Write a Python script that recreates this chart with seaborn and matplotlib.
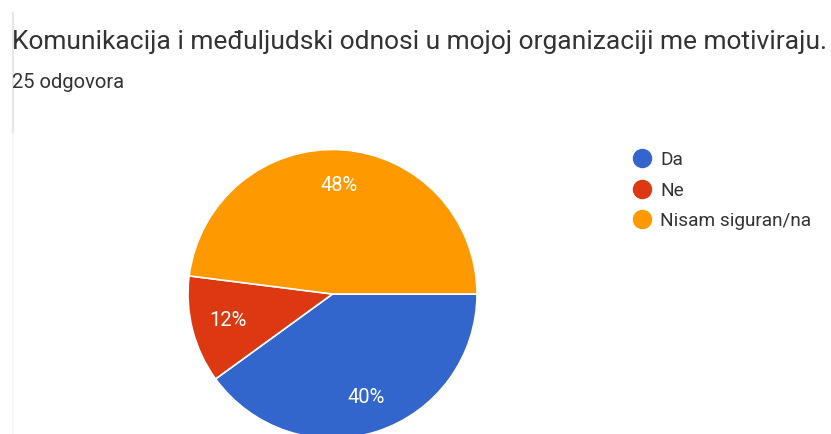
import matplotlib
matplotlib.use("Agg")
import matplotlib.pyplot as plt
from matplotlib.lines import Line2D
import seaborn as sns

# Data
categories = ["Da", "Ne", "Nisam siguran/na"]
values = [40, 12, 48]
colors = ["#3366cc", "#dc3912", "#ff9900"]
title = "Komunikacija i međuljudski odnosi u mojoj organizaciji me motiviraju."
subtitle = "25 odgovora"

sns.set_theme(style="white")
plt.rcParams["font.family"] = ["Roboto", "DejaVu Sans"]

W, H = 831, 434
fig = plt.figure(figsize=(W / 100, H / 100), dpi=100)
fig.patch.set_facecolor("white")

# pie axes: center (332.5, 294) px, radius 144.5 px
cx, cy, r = 332.5, 294, 144.5
ax = fig.add_axes([(cx - r) / W, (H - cy - r) / H, 2 * r / W, 2 * r / H])
wedges, texts, autotexts = ax.pie(
    values,
    colors=colors,
    startangle=0,
    counterclock=False,
    autopct=lambda p: f"{p:.0f}%",
    pctdistance=0.75,
    radius=1,
    wedgeprops=dict(edgecolor="white", linewidth=1.2),
    textprops=dict(color="white", fontsize=14.5),
)
ax.set_xlim(-1, 1)
ax.set_ylim(-1, 1)
ax.set_aspect("equal")
ax.axis("off")

# Title and subtitle
fig.text(12 / W, 1 - 42 / H, title, fontsize=19, color="#333333",
         va="center", ha="left")
fig.text(12 / W, 1 - 82 / H, subtitle, fontsize=14.5, color="#333333",
         va="center", ha="left")

# left border lines
fig.add_artist(Line2D([12.5 / W, 12.5 / W], [1 - 13 / H, 1 - 133 / H],
                      color="#e6e6e6", linewidth=1.6))
fig.add_artist(Line2D([12.5 / W, 12.5 / W], [1 - 133 / H, 0],
                      color="#f7f7f7", linewidth=1.2))

# Legend
handles = [Line2D([0], [0], marker="o", linestyle="", markersize=13,
                  markerfacecolor=c, markeredgecolor=c) for c in colors]
leg = fig.legend(handles, categories, loc="upper left",
                 bbox_to_anchor=(632.5 / W, 1 - 151 / H), frameon=False,
                 fontsize=13.7, handletextpad=0.45, labelspacing=0.66,
                 handlelength=1.0, borderaxespad=0, borderpad=0)
for t in leg.get_texts():
    t.set_color("#333333")

fig.savefig("out.png", dpi=100)
